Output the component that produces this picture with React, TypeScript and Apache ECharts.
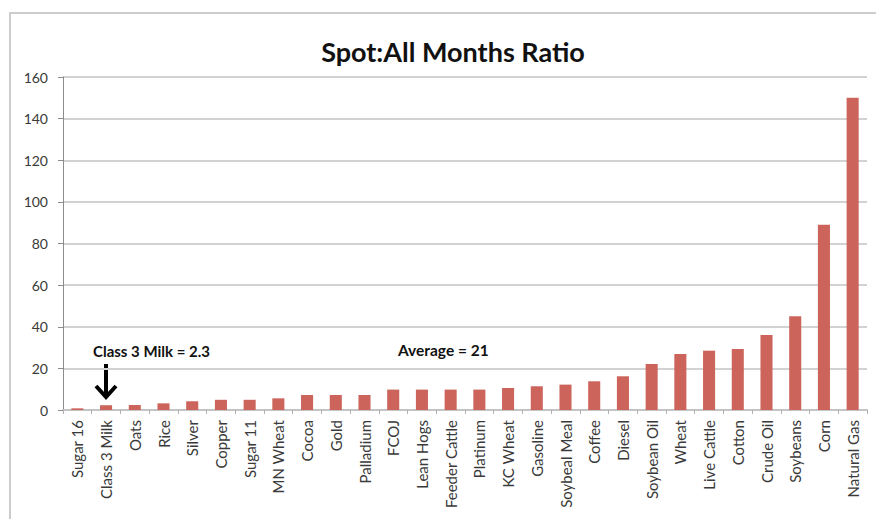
import React, { useEffect, useRef } from "react";
import * as echarts from "echarts";

const categories = [
  "Sugar 16", "Class 3 Milk", "Oats", "Rice", "Silver", "Copper", "Sugar 11", "MN Wheat",
  "Cocoa", "Gold", "Palladium", "FCOJ", "Lean Hogs", "Feeder Cattle", "Platinum", "KC Wheat",
  "Gasoline", "Soybeal Meal", "Coffee", "Diesel", "Soybean Oil", "Wheat", "Live Cattle",
  "Cotton", "Crude Oil", "Soybeans", "Corn", "Natural Gas",
];
const ratios = [
  0.8, 2.3, 2.4, 3.2, 4.2, 4.9, 4.9, 5.6,
  7.2, 7.2, 7.2, 9.8, 9.8, 9.8, 9.8, 10.6,
  11.4, 12.2, 13.8, 16.2, 22.1, 26.9, 28.5,
  29.3, 36, 45, 89, 150,
];
const yTicks = { min: 0, max: 160, interval: 20 };
const titleText = "Spot:All Months Ratio";
const milkNote = "Class 3 Milk = 2.3";
const avgNote = "Average = 21";

export default function App() {
  const ref = useRef<HTMLDivElement>(null);
  useEffect(() => {
    if (!ref.current) return;
    const chart = echarts.init(ref.current, undefined, { renderer: "svg" });
    const font = "Lato, 'Open Sans', sans-serif";
    chart.setOption({
      animation: false,
      backgroundColor: "#ffffff",
      textStyle: { fontFamily: font },
      title: {
        text: titleText,
        left: 448,
        top: 33,
        textAlign: "center",
        textStyle: { fontFamily: font, fontWeight: "bold", fontSize: 27, color: "#111" },
      },
      grid: { left: 63, right: 9, top: 77, bottom: 109 },
      xAxis: {
        type: "category",
        data: categories,
        boundaryGap: true,
        axisLine: { lineStyle: { color: "#c4c4c4", width: 2 } },
        axisTick: { show: true, length: 4, lineStyle: { color: "#b0b0b0" } },
        axisLabel: { rotate: 90, fontSize: 15, color: "#3a3a3a", margin: 10, interval: 0, fontFamily: font },
      },
      yAxis: {
        type: "value",
        min: yTicks.min,
        max: yTicks.max,
        interval: yTicks.interval,
        axisLine: { show: true, lineStyle: { color: "#8c8c8c", width: 1 } },
        axisTick: { show: true, length: 5, lineStyle: { color: "#8c8c8c" } },
        axisLabel: { fontSize: 14, color: "#3a3a3a", margin: 15, fontFamily: font },
        splitLine: { lineStyle: { color: "#d2d2d2", width: 2 } },
      },
      series: [
        {
          type: "bar",
          data: ratios,
          barWidth: "42%",
          itemStyle: { color: "#cd645c" },
        },
      ],
      graphic: [
        {
          type: "rect",
          shape: { x: 10, y: 13, width: 900, height: 560 },
          style: { fill: "none", stroke: "#cccccc", lineWidth: 2 },
          silent: true,
        },
        {
          type: "text",
          x: 93,
          y: 343,
          style: { text: milkNote, font: `bold 15px ${font}`, fill: "#111" },
        },
        {
          type: "text",
          x: 398,
          y: 342,
          style: { text: avgNote, font: `bold 15.5px ${font}`, fill: "#111" },
        },
        {
          type: "line",
          shape: { x1: 106, y1: 364, x2: 106, y2: 396 },
          style: { stroke: "#000", lineWidth: 4 },
        },
        {
          type: "polyline",
          shape: { points: [[96, 386], [106, 397], [116, 386]] },
          style: { stroke: "#000", lineWidth: 4, fill: "none", lineJoin: "miter" },
        },
      ],
    });
    return () => chart.dispose();
  }, []);
  return (
    <div
      ref={ref}
      style={{ position: "fixed", left: 0, top: 0, width: 876, height: 519 }}
    />
  );
}
